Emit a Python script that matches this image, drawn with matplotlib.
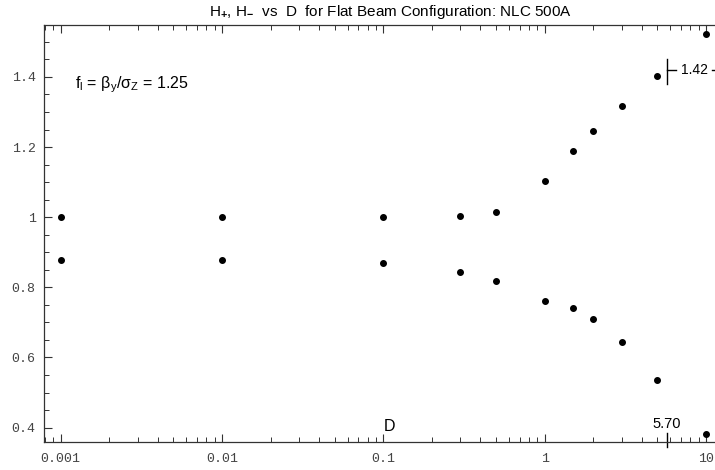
import matplotlib
matplotlib.use("Agg")
import matplotlib.pyplot as plt
from matplotlib.ticker import LogLocator, FixedLocator, NullFormatter, FixedFormatter

plt.rcParams['mathtext.fontset'] = 'custom'
plt.rcParams['mathtext.rm'] = 'Liberation Sans'
plt.rcParams['mathtext.it'] = 'Liberation Sans'
plt.rcParams['mathtext.bf'] = 'Liberation Sans:bold'

D = [0.001, 0.01, 0.1, 0.3, 0.5, 1.0, 1.5, 2.0, 3.0, 5.0, 10.0]
H_plus = [1.0, 1.0, 1.0, 1.003, 1.014, 1.103, 1.19, 1.247, 1.316, 1.402, 1.523]
H_minus = [0.879, 0.879, 0.868, 0.845, 0.819, 0.762, 0.741, 0.710, 0.644, 0.535, 0.383]
x_ticks = [0.001, 0.01, 0.1, 1, 10]
x_labels = ["0.001", "0.01", "0.1", "1", "10"]
y_ticks = [0.4, 0.6, 0.8, 1.0, 1.2, 1.4]
y_labels = ["0.4", "0.6", "0.8", "1", "1.2", "1.4"]
D_mark = 5.70
H_mark = 1.42

W, H = 715, 470
fig = plt.figure(figsize=(W / 100, H / 100), dpi=100)
ax = fig.add_axes([44 / W, (H - 442) / H, (715 - 44) / W, (442 - 25) / H])

ax.plot(D, H_plus, 'o', color='black', markersize=4)
ax.plot(D, H_minus, 'o', color='black', markersize=4)

ax.set_xscale('log')
ax.set_xlim(10 ** -3.1036, 10 ** 1.056)
ax.set_ylim(0.359, 1.548)

ax.xaxis.set_major_locator(FixedLocator(x_ticks))
ax.xaxis.set_major_formatter(FixedFormatter(x_labels))
ax.xaxis.set_minor_locator(LogLocator(base=10, subs=range(2, 10), numticks=20))
ax.xaxis.set_minor_formatter(NullFormatter())
ax.yaxis.set_major_locator(FixedLocator(y_ticks))
ax.yaxis.set_major_formatter(FixedFormatter(y_labels))
ax.yaxis.set_minor_locator(FixedLocator([0.4 + 0.05 * i for i in range(-1, 24)]))

ax.spines['right'].set_visible(False)
for s in ['left', 'bottom', 'top']:
    ax.spines[s].set_linewidth(0.9)
    ax.spines[s].set_color('#333333')

ax.tick_params(axis='both', which='major', direction='in', length=6, width=0.8,
               colors='#333333', labelcolor='#444444')
ax.tick_params(axis='both', which='minor', direction='in', length=3.5, width=0.7,
               colors='#333333')
ax.tick_params(axis='x', which='both', top=True, labeltop=False)
ax.tick_params(axis='y', which='both', right=False)
ax.tick_params(axis='x', which='major', pad=8)
ax.tick_params(axis='y', which='major', pad=6)
for lab in ax.get_xticklabels() + ax.get_yticklabels():
    lab.set_fontfamily('Liberation Mono')
    lab.set_fontsize(9.5)

fig.text(391 / W, 1 - 12 / H,
         r"H$_{\mathbf{+}}$, H$_{\mathbf{-}}$  vs  D  for Flat Beam Configuration: NLC 500A",
         fontsize=11, family='Liberation Sans', ha='center', va='center')

# inline annotations
ax.text(0.1, 0.382, "D", fontsize=11.5, family='Liberation Sans', ha='left', va='bottom')
ax.text(0.00123, 1.377, r"f$_{\mathrm{l}}$ = β$_{\mathrm{y}}$/σ$_{\mathrm{Z}}$ = 1.25",
        fontsize=11.5, family='Liberation Sans', ha='left', va='center')

# 5.70 marker on the bottom axis
ax.plot([D_mark, D_mark], [0.344, 0.385], color='black', lw=1, clip_on=False)
ax.text(D_mark, 0.39, "%.2f" % D_mark, fontsize=10.5, family='Liberation Sans',
        ha='center', va='bottom')
# 1.42 marker
ax.plot([D_mark, D_mark], [H_mark - 0.04, H_mark + 0.03], color='black', lw=1)
ax.plot([D_mark, D_mark * 1.14], [H_mark, H_mark], color='black', lw=1)
ax.text(D_mark * 1.22, H_mark, "%.2f" % H_mark, fontsize=10, family='Liberation Sans',
        ha='left', va='center')
ax.plot([D_mark * 1.9, D_mark * 1.98], [H_mark, H_mark], color='black', lw=1, clip_on=False)

fig.savefig("out.png", dpi=100)
